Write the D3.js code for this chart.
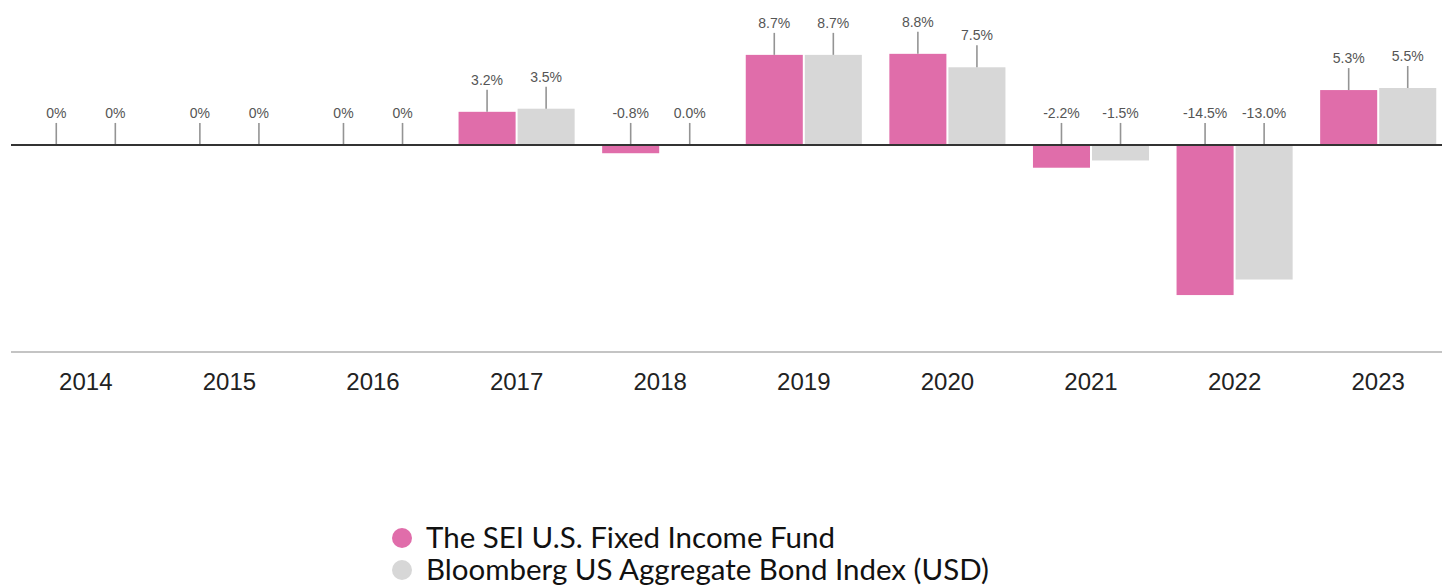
<!DOCTYPE html>
<html>
<head>
<meta charset="utf-8">
<script src="https://cdn.jsdelivr.net/npm/d3@7"></script>
<style>
  body { margin: 0; background: #fff; }
  svg { display: block; }
</style>
</head>
<body>
<svg id="chart" width="1442" height="587"></svg>
<script>
const years = ["2014", "2015", "2016", "2017", "2018", "2019", "2020", "2021", "2022", "2023"];
const seriesNames = ["The SEI U.S. Fixed Income Fund", "Bloomberg US Aggregate Bond Index (USD)"];
const fundValues  = [null, null, null, 3.2, -0.8, 8.7, 8.8, -2.2, -14.5, 5.3];
const indexValues = [null, null, null, 3.5,  0.0, 8.7, 7.5, -1.5, -13.0, 5.5];
const colors = ["#e06daa", "#d7d7d7"];

const width = 1442, height = 587;
const svg = d3.select("#chart");

const rows = years.map((y, i) => ({ year: y, values: [fundValues[i], indexValues[i]] }));

const x0 = d3.scaleBand().domain(years).range([14, 1450]);
const x1 = d3.scaleBand().domain([0, 1]).range([0, x0.bandwidth()])
  .paddingInner(0.034).paddingOuter(0.233);
const y = d3.scaleLinear().domain([-20, 14]).range([352, 0]);

const fmt = v => v === null ? "0%" : v.toFixed(1) + "%";

// bottom axis line + year labels
svg.append("line")
  .attr("x1", 11).attr("x2", width)
  .attr("y1", y(-20)).attr("y2", y(-20))
  .attr("stroke", "#c4c4c4").attr("stroke-width", 2);

svg.append("g").selectAll("text")
  .data(years)
  .join("text")
  .attr("x", d => x0(d) + x0.bandwidth() / 2)
  .attr("y", 390)
  .attr("text-anchor", "middle")
  .attr("font-family", "Liberation Sans, Arial, sans-serif")
  .attr("font-size", 24)
  .attr("fill", "#222")
  .text(d => d);

const groups = svg.append("g").selectAll("g")
  .data(rows)
  .join("g")
  .attr("transform", d => `translate(${x0(d.year)},0)`);

const cells = groups.selectAll("g")
  .data(d => d.values.map((v, i) => ({ i, v })))
  .join("g");

cells.append("rect")
  .attr("x", d => x1(d.i))
  .attr("width", x1.bandwidth())
  .attr("y", d => y(Math.max(0, d.v || 0)))
  .attr("height", d => Math.abs(y(d.v || 0) - y(0)))
  .attr("fill", d => colors[d.i]);

// label stems start at the bar end for positive values, at zero otherwise
const stemBase = d => y(Math.max(0, d.v || 0));
cells.append("line")
  .attr("x1", d => x1(d.i) + x1.bandwidth() / 2)
  .attr("x2", d => x1(d.i) + x1.bandwidth() / 2)
  .attr("y1", stemBase)
  .attr("y2", d => stemBase(d) - 22)
  .attr("stroke", "#949494").attr("stroke-width", 1.6);

cells.append("text")
  .attr("x", d => x1(d.i) + x1.bandwidth() / 2)
  .attr("y", d => stemBase(d) - 27)
  .attr("text-anchor", "middle")
  .attr("font-family", "Liberation Sans, Arial, sans-serif")
  .attr("font-size", 14)
  .attr("fill", "#555")
  .text(d => fmt(d.v));

// zero line
svg.append("line")
  .attr("x1", 11).attr("x2", width)
  .attr("y1", y(0)).attr("y2", y(0))
  .attr("stroke", "#333").attr("stroke-width", 2);

// legend
const legend = svg.append("g").attr("transform", "translate(402,538)");
const item = legend.selectAll("g")
  .data(seriesNames)
  .join("g")
  .attr("transform", (d, i) => `translate(0,${i * 32})`);
item.append("circle").attr("r", 10).attr("fill", (d, i) => colors[i]);
item.append("text")
  .attr("x", 24).attr("y", 10)
  .attr("font-family", "Lato, sans-serif")
  .attr("font-size", 29.5)
  .attr("fill", "#111")
  .text(d => d);
</script>
</body>
</html>
